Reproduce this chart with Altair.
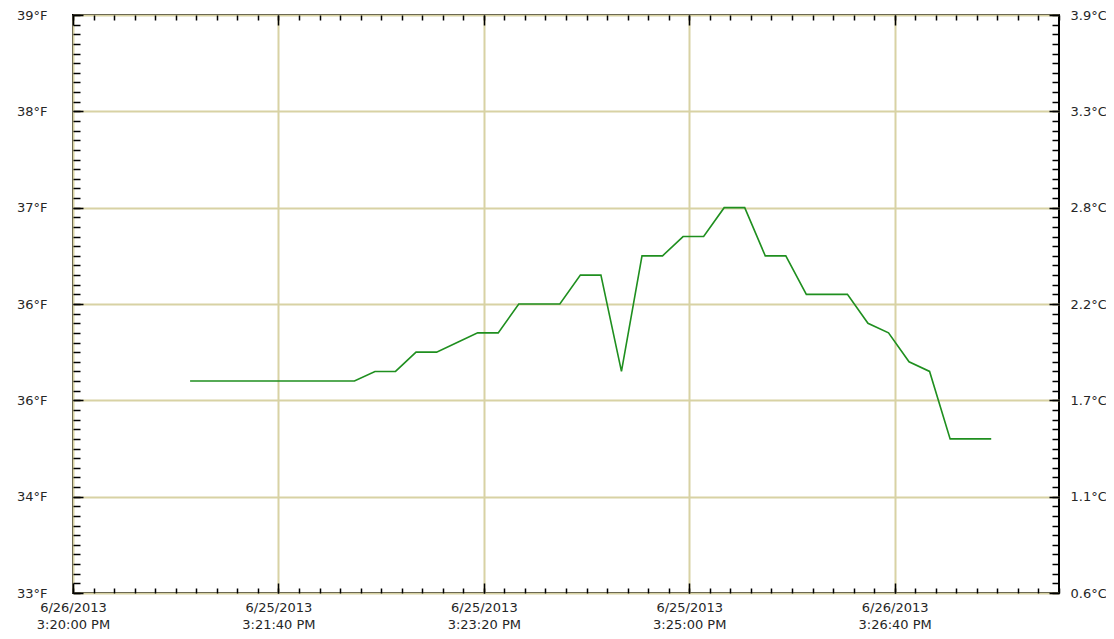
import json
import altair as alt
import pandas as pd

# ---- data ----
times = [
    "15:20:57", "15:21:07", "15:21:17", "15:21:27", "15:21:37", "15:21:47", "15:21:57",
    "15:22:07", "15:22:17", "15:22:27", "15:22:37", "15:22:47", "15:22:57", "15:23:07",
    "15:23:17", "15:23:27", "15:23:37", "15:23:47", "15:23:57", "15:24:07", "15:24:17",
    "15:24:27", "15:24:37", "15:24:47", "15:24:57", "15:25:07", "15:25:17", "15:25:27",
    "15:25:37", "15:25:47", "15:25:57", "15:26:07", "15:26:17", "15:26:27", "15:26:37",
    "15:26:47", "15:26:57", "15:27:07", "15:27:17", "15:27:27",
]
temp_f = [
    35.2, 35.2, 35.2, 35.2, 35.2, 35.2, 35.2, 35.2, 35.2, 35.3,
    35.3, 35.5, 35.5, 35.6, 35.7, 35.7, 36.0, 36.0, 36.0, 36.3,
    36.3, 35.3, 36.5, 36.5, 36.7, 36.7, 37.0, 37.0, 36.5, 36.5,
    36.1, 36.1, 36.1, 35.8, 35.7, 35.4, 35.3, 34.6, 34.6, 34.6,
]
f_tick_labels = ["33°F", "34°F", "36°F", "36°F", "37°F", "38°F", "39°F"]
c_tick_labels = ["0.6°C", "1.1°C", "1.7°C", "2.2°C", "2.8°C", "3.3°C", "3.9°C"]
x_tick_labels = [
    ["6/26/2013", "3:20:00 PM"],
    ["6/25/2013", "3:21:40 PM"],
    ["6/25/2013", "3:23:20 PM"],
    ["6/25/2013", "3:25:00 PM"],
    ["6/26/2013", "3:26:40 PM"],
]

df = pd.DataFrame({"t": ["2013-06-25T" + s for s in times], "f": temp_f})


def dt(sec):
    m, s = divmod(sec, 60)
    return alt.DateTime(year=2013, month=6, date=25, hours=15, minutes=20 + m, seconds=s)


x_major = [dt(s) for s in range(0, 481, 100)]
x_minor = [dt(s) for s in range(0, 481, 10)]
y_major = list(range(33, 40))
y_minor = [round(33 + i / 10, 1) for i in range(61)]

xscale = alt.Scale(domain=[dt(0), dt(480)], nice=False)
yscale = alt.Scale(domain=[33, 39], nice=False)

FONT = "DejaVu Sans"
LBL = dict(labelFont=FONT, labelFontSize=13, labelColor="#262626")
GRID = "#d8d2a4"

x_expr = json.dumps(x_tick_labels) + "[round((datum.value - datetime(2013,5,25,15,20,0))/100000)]"
f_expr = json.dumps(f_tick_labels) + "[round(datum.value - 33)]"
c_expr = json.dumps(c_tick_labels) + "[round(datum.value - 33)]"


def layer(xaxis, yaxis, visible=False):
    mk = alt.Chart(df).mark_line(
        color="#1f8f1f", strokeWidth=1.6, opacity=1 if visible else 0
    )
    return mk.encode(
        x=alt.X("t:T", scale=xscale, axis=xaxis, title=None),
        y=alt.Y("f:Q", scale=yscale, axis=yaxis, title=None),
    )


# grid + visible line
l_grid = layer(
    alt.Axis(orient="bottom", values=x_major, grid=True, gridColor=GRID, gridWidth=2,
             ticks=False, labels=False, domain=False),
    alt.Axis(orient="left", values=y_major, grid=True, gridColor=GRID, gridWidth=2,
             ticks=False, labels=False, domain=False),
    visible=True,
)
# bottom / left major ticks with labels
l_major1 = layer(
    alt.Axis(orient="bottom", values=x_major, offset=-10, tickSize=10, tickColor="black",
             tickWidth=1.5, domain=False, grid=False, labelExpr=x_expr, labelPadding=8,
             labelLineHeight=17, labelBaseline="top", labelAlign="center", **LBL),
    alt.Axis(orient="left", values=y_major, offset=-10, tickSize=10, tickColor="black",
             tickWidth=1.5, domain=False, grid=False, labelExpr=f_expr, labelPadding=26, **LBL),
)
# bottom / left minor ticks
l_minor1 = layer(
    alt.Axis(orient="bottom", values=x_minor, offset=-5, tickSize=5, tickColor="black",
             tickWidth=1.5, domain=False, grid=False, labels=False),
    alt.Axis(orient="left", values=y_minor, offset=-7, tickSize=7, tickColor="black",
             tickWidth=1.5, domain=False, grid=False, labels=False),
)
# top / right major ticks (+ right labels)
l_major2 = layer(
    alt.Axis(orient="top", values=x_major, offset=-10, tickSize=10, tickColor="black",
             tickWidth=1.5, domain=False, grid=False, labels=False),
    alt.Axis(orient="right", values=y_major, offset=-10, tickSize=10, tickColor="black",
             tickWidth=1.5, domain=False, grid=False, labelExpr=c_expr, labelPadding=11, **LBL),
)
# top / right minor ticks
l_minor2 = layer(
    alt.Axis(orient="top", values=x_minor, offset=-5, tickSize=5, tickColor="black",
             tickWidth=1.5, domain=False, grid=False, labels=False),
    alt.Axis(orient="right", values=y_minor, offset=-7, tickSize=7, tickColor="black",
             tickWidth=1.5, domain=False, grid=False, labels=False),
)

chart = (
    alt.layer(l_grid, l_major1, l_minor1, l_major2, l_minor2)
    .resolve_axis(x="independent", y="independent")
    .properties(
        width=986,
        height=578,
        autosize=alt.AutoSizeParams(type="none"),
        padding={"left": 65, "top": 7, "right": 47, "bottom": 38},
        background="white",
    )
    .configure_view(stroke="black", strokeWidth=2)
)

chart.save("out.html", embed_options={"renderer": "svg", "actions": False})
